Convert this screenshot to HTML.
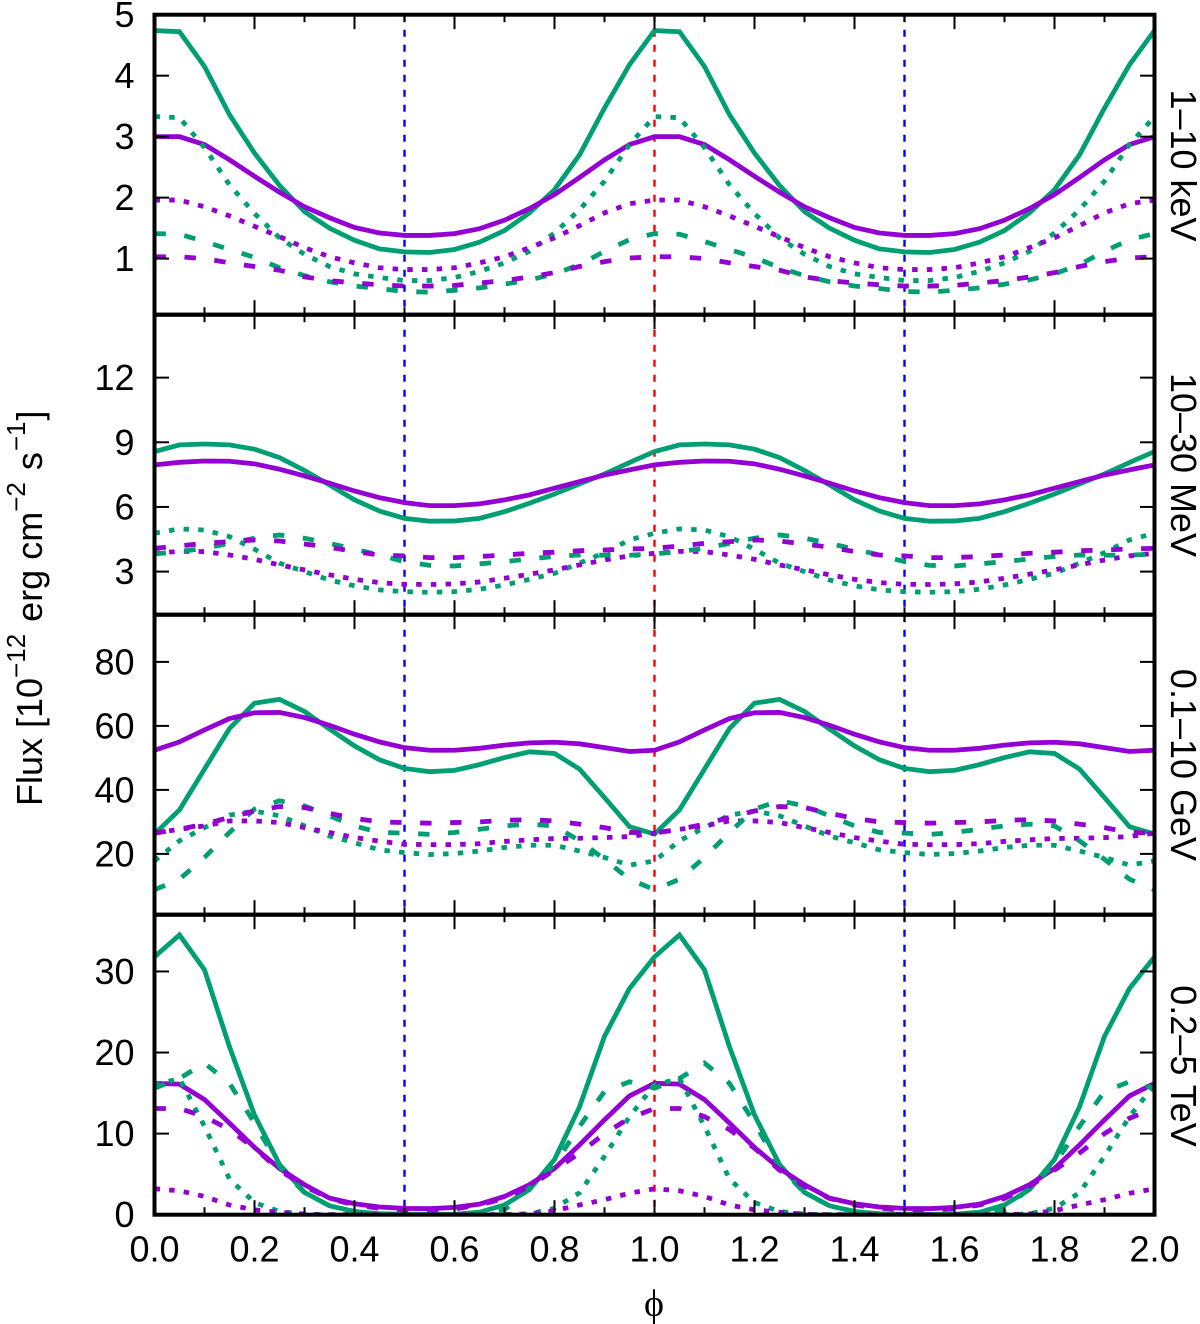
<!DOCTYPE html>
<html lang="en">
<head>
<meta charset="utf-8">
<title>Orbital phase flux curves</title>
<style>
html,body{margin:0;padding:0;background:#fff;}
svg{display:block;}
text{font-family:"Liberation Sans",sans-serif;fill:#000;}
</style>
</head>
<body>
<svg id="chart" xmlns="http://www.w3.org/2000/svg" width="1200" height="1324" viewBox="0 0 1200 1324">
  <text transform="translate(42,806) rotate(-90)" font-size="36">Flux [10<tspan dy="-17" font-size="26">−12</tspan><tspan dy="17" dx="2"> erg cm</tspan><tspan dy="-17" font-size="26">−2</tspan><tspan dy="17" dx="2"> s</tspan><tspan dy="-17" font-size="26" dx="1">−1</tspan><tspan dy="17" dx="1">]</tspan></text>
  <text x="654" y="1316" font-size="38" text-anchor="middle" style="font-family:'Liberation Serif','DejaVu Serif',serif">ϕ</text>
  <text transform="translate(1171,165.5) rotate(90)" font-size="36" text-anchor="middle">1–10 keV</text>
  <text transform="translate(1171,465) rotate(90)" font-size="36" text-anchor="middle">10–30 MeV</text>
  <text transform="translate(1171,765) rotate(90)" font-size="36" text-anchor="middle">0.1–10 GeV</text>
  <text transform="translate(1171,1066) rotate(90)" font-size="36" text-anchor="middle">0.2–5 TeV</text>
</svg>
<script>
// One orbital cycle sampled in phase; the curves repeat over the two plotted cycles.
const phaseSamples = [0,0.05,0.1,0.15,0.2,0.25,0.3,0.35,0.4,0.45,0.5,0.55,0.6,0.65,0.7,0.75,0.8,0.85,0.9,0.95];
const cycleCount = 2;
const xTickLabels = ["0.0","0.2","0.4","0.6","0.8","1.0","1.2","1.4","1.6","1.8","2.0"];
const xMinorTicks = [0.1,0.3,0.5,0.7,0.9,1.1,1.3,1.5,1.7,1.9];
const blueMarkers = [0.5,1.5];
const redMarkers = [1.0];

// Panel 1: 1-10 keV
const kevDomain = [0.08,5];
const kevTicks = [1,2,3,4,5];
const kevGreenSolid = [4.74,4.72,4.15,3.36,2.73,2.2,1.77,1.5,1.3,1.16,1.11,1.1,1.15,1.27,1.46,1.75,2.13,2.7,3.47,4.18];
const kevPurpleSolid = [3,3,2.87,2.62,2.35,2.09,1.85,1.67,1.51,1.42,1.38,1.38,1.41,1.49,1.63,1.82,2.05,2.33,2.62,2.87];
const kevGreenDotted = [3.33,3.31,2.82,2.21,1.74,1.34,1.07,0.87,0.75,0.69,0.64,0.64,0.69,0.79,0.93,1.12,1.42,1.8,2.27,2.87];
const kevPurpleDotted = [1.96,1.96,1.85,1.7,1.53,1.36,1.18,1.03,0.93,0.85,0.82,0.82,0.85,0.93,1.03,1.18,1.34,1.54,1.75,1.9];
const kevGreenDashed = [1.41,1.4,1.28,1.15,1.02,0.85,0.72,0.62,0.55,0.51,0.46,0.45,0.48,0.52,0.58,0.65,0.75,0.9,1.12,1.31];
const kevPurpleDashed = [1.03,1.03,1,0.93,0.87,0.81,0.7,0.64,0.6,0.57,0.55,0.55,0.56,0.6,0.64,0.7,0.77,0.87,0.95,1.01];

// Panel 2: 10-30 MeV
const mevDomain = [1,14.92];
const mevTicks = [3,6,9,12];
const mevGreenSolid = [8.57,8.88,8.92,8.88,8.68,8.29,7.69,7.02,6.33,5.81,5.47,5.34,5.35,5.47,5.78,6.17,6.6,7.07,7.53,8.06];
const mevPurpleSolid = [7.95,8.07,8.13,8.12,8,7.75,7.44,7.1,6.74,6.43,6.2,6.06,6.06,6.14,6.33,6.56,6.87,7.18,7.48,7.72];
const mevGreenDotted = [4.78,4.98,4.93,4.62,4.04,3.39,3,2.61,2.34,2.15,2.07,2.04,2.07,2.18,2.38,2.64,2.92,3.39,3.88,4.47];
const mevPurpleDotted = [3.85,3.94,3.93,3.77,3.57,3.31,3.08,2.85,2.64,2.49,2.41,2.4,2.43,2.52,2.69,2.88,3.08,3.31,3.54,3.73];
const mevGreenDashed = [3.82,3.93,4.08,4.31,4.55,4.7,4.55,4.31,4.04,3.77,3.46,3.29,3.26,3.36,3.46,3.59,3.7,3.77,3.76,3.76];
const mevPurpleDashed = [4.08,4.19,4.31,4.39,4.47,4.42,4.28,4.13,3.93,3.77,3.73,3.65,3.65,3.7,3.77,3.85,3.9,3.97,4,4.05];

// Panel 3: 0.1-10 GeV
const gevDomain = [1,94.75];
const gevTicks = [20,40,60,80];
const gevGreenSolid = [26.2,33.75,46.5,59.2,67.1,68.3,64.5,59,53.75,49.4,46.7,45.7,46.1,47.9,50.1,51.9,51.4,46.5,37.6,28.5];
const gevPurpleSolid = [52.4,55,58.75,62.3,64.1,64.2,62.6,60.2,57.4,55,53.2,52.4,52.4,53,54,54.7,54.9,54.4,53.2,52];
const gevGreenDotted = [17.8,24.1,28.2,32.1,33.4,31.9,28.75,25.6,23.5,21.25,20.4,19.8,20.1,20.9,22,22.7,22.7,20.9,18.9,16.5];
const gevPurpleDotted = [26.5,27.7,28.75,30.3,30.3,29.8,28.2,26.7,25.1,24,23,22.9,22.9,23.2,23.9,24.4,24.8,24.9,25.1,25.4];
const gevGreenDashed = [8.8,12.1,18.9,26.7,34,36.6,35,31.9,28.75,26.7,26.5,26.1,26.7,27.7,28.75,29.3,28.75,24.1,18.3,12.1];
const gevPurpleDashed = [26.5,27.7,29.3,31.4,33.4,34.8,34.5,32.7,31.1,30,29.8,29.6,29.8,30,30.5,30.7,30.3,29.3,28.2,26.7];

// Panel 4: 0.2-5 TeV
const tevDomain = [0,37];
const tevTicks = [0,10,20,30];
const tevGreenSolid = [31.8,34.5,30.2,20.7,12.3,6.2,2.75,1.1,0.4,0.12,0.05,0.04,0.05,0.3,1.2,3.1,6.8,13.3,22,27.9];
const tevPurpleSolid = [16.2,16.1,14.2,11.3,8.3,5.7,3.7,2.05,1.35,0.95,0.78,0.74,0.9,1.3,2.25,3.7,5.7,8.6,11.7,14.65];
const tevGreenDotted = [16,16.8,10.9,4.4,1.5,0.4,0.08,0,0,0,0,0,0,0,0,0.1,0.8,2.7,7.2,12.1];
const tevPurpleDotted = [3.2,2.95,2.25,1.2,0.6,0.3,0.05,0,0,0,0,0,0,0,0,0.1,0.5,1.2,1.85,2.65];
const tevGreenDashed = [15.6,16.8,18.7,16.2,11.3,5.95,2.7,1.1,0.4,0.1,0.05,0.05,0.05,0.3,0.6,3.3,6.2,10.9,15.2,16.4];
const tevPurpleDashed = [13.1,13.1,12.1,10.5,8.2,5.5,3.5,2,1.2,0.8,0.6,0.6,0.7,1.2,2,3.5,5.5,7.6,10,11.9];

const NS = 'http://www.w3.org/2000/svg';
const svg = document.getElementById('chart');
const GREEN = '#009e73', PURPLE = '#9400d3';
const plotLeft = 154.5, plotRight = 1154.5;
const dashStyles = {solid:null, dashed:'11.4 18.6', dotted:'5.5 9.2'};

function xScale(phi){ return plotLeft + (phi/cycleCount)*(plotRight-plotLeft); }
function makeYScale(domain, top, bottom){
  return v => bottom - (v-domain[0])/(domain[1]-domain[0])*(bottom-top);
}
function make(tag, attrs, parent){
  const el = document.createElementNS(NS, tag);
  for (const k in attrs) el.setAttribute(k, attrs[k]);
  parent.appendChild(el);
  return el;
}

const panels = [
  {key:'kev', top:14.7, domain:kevDomain, ticks:kevTicks, series:[
    ['green-solid',kevGreenSolid,GREEN,'solid'],['purple-solid',kevPurpleSolid,PURPLE,'solid'],
    ['green-dotted',kevGreenDotted,GREEN,'dotted'],['purple-dotted',kevPurpleDotted,PURPLE,'dotted'],
    ['green-dashed',kevGreenDashed,GREEN,'dashed'],['purple-dashed',kevPurpleDashed,PURPLE,'dashed']]},
  {key:'mev', top:314.7, domain:mevDomain, ticks:mevTicks, series:[
    ['green-solid',mevGreenSolid,GREEN,'solid'],['purple-solid',mevPurpleSolid,PURPLE,'solid'],
    ['green-dotted',mevGreenDotted,GREEN,'dotted'],['purple-dotted',mevPurpleDotted,PURPLE,'dotted'],
    ['green-dashed',mevGreenDashed,GREEN,'dashed'],['purple-dashed',mevPurpleDashed,PURPLE,'dashed']]},
  {key:'gev', top:614.7, domain:gevDomain, ticks:gevTicks, series:[
    ['green-solid',gevGreenSolid,GREEN,'solid'],['purple-solid',gevPurpleSolid,PURPLE,'solid'],
    ['green-dotted',gevGreenDotted,GREEN,'dotted'],['purple-dotted',gevPurpleDotted,PURPLE,'dotted'],
    ['green-dashed',gevGreenDashed,GREEN,'dashed'],['purple-dashed',gevPurpleDashed,PURPLE,'dashed']]},
  {key:'tev', top:914.7, domain:tevDomain, ticks:tevTicks, series:[
    ['green-solid',tevGreenSolid,GREEN,'solid'],['purple-solid',tevPurpleSolid,PURPLE,'solid'],
    ['green-dotted',tevGreenDotted,GREEN,'dotted'],['purple-dotted',tevPurpleDotted,PURPLE,'dotted'],
    ['green-dashed',tevGreenDashed,GREEN,'dashed'],['purple-dashed',tevPurpleDashed,PURPLE,'dashed']]}
];
const panelHeight = 300;

const defs = make('defs', {}, svg);

panels.forEach((p, pi) => {
  const top = p.top, bottom = top + panelHeight;
  const y = makeYScale(p.domain, top, bottom);

  const clip = make('clipPath', {id:'clip-'+p.key}, defs);
  make('rect', {x:plotLeft, y:top, width:plotRight-plotLeft, height:panelHeight}, clip);

  const group = make('g', {}, svg);
  
  

  // vertical phase markers
  blueMarkers.forEach(m => {
    const line = make('line', {x1:xScale(m), x2:xScale(m), y1:top, y2:bottom, stroke:'#0000ff', 'stroke-width':2.4, 'stroke-dasharray':'7 8'}, group);
    
    
  });
  redMarkers.forEach(m => {
    const line = make('line', {x1:xScale(m), x2:xScale(m), y1:top, y2:bottom, stroke:'#ff0000', 'stroke-width':2.4, 'stroke-dasharray':'7 8'}, group);
    
    
  });

  // series
  p.series.forEach(s => {
    const name = s[0], values = s[1], color = s[2], style = s[3];
    const pts = [];
    for (let c = 0; c < cycleCount; c++) {
      phaseSamples.forEach((phi, i) => {
        pts.push(xScale(phi + c).toFixed(2) + ',' + y(values[i]).toFixed(2));
      });
    }
    pts.push(xScale(cycleCount).toFixed(2) + ',' + y(values[0]).toFixed(2));
    const attrs = {points:pts.join(' '), fill:'none', stroke:color, 'stroke-width':4.8, 'stroke-linejoin':'miter', 'clip-path':'url(#clip-'+p.key+')'};
    if (dashStyles[style]) attrs['stroke-dasharray'] = dashStyles[style];
    const line = make('polyline', attrs, group);
    
    
  });

  // x ticks (top and bottom of the panel)
  xTickLabels.forEach(lbl => {
    const xp = xScale(parseFloat(lbl));
    make('line', {x1:xp, x2:xp, y1:top, y2:top+14.5, stroke:'#000', 'stroke-width':2}, group);
    make('line', {x1:xp, x2:xp, y1:bottom, y2:bottom-14.5, stroke:'#000', 'stroke-width':2}, group);
  });
  xMinorTicks.forEach(m => {
    const xp = xScale(m);
    make('line', {x1:xp, x2:xp, y1:top, y2:top+7.5, stroke:'#000', 'stroke-width':2}, group);
    make('line', {x1:xp, x2:xp, y1:bottom, y2:bottom-7.5, stroke:'#000', 'stroke-width':2}, group);
  });

  // y ticks and labels
  p.ticks.forEach(t => {
    const yp = y(t);
    make('line', {x1:plotLeft, x2:plotLeft+14.5, y1:yp, y2:yp, stroke:'#000', 'stroke-width':2}, group);
    make('line', {x1:plotRight, x2:plotRight-14.5, y1:yp, y2:yp, stroke:'#000', 'stroke-width':2}, group);
    const label = make('text', {x:134.5, y:yp+12.5, 'font-size':36, 'text-anchor':'end'}, group);
    label.textContent = String(t);
    
    
  });

  // frame
  const frame = make('rect', {x:plotLeft, y:top, width:plotRight-plotLeft, height:panelHeight, fill:'none', stroke:'#000', 'stroke-width':4}, group);
  
  

  // x tick labels under the last panel only
  if (pi === panels.length - 1) {
    xTickLabels.forEach(lbl => {
      const t = make('text', {x:xScale(parseFloat(lbl)), y:bottom+47, 'font-size':36, 'text-anchor':'middle'}, group);
      t.textContent = lbl;
      
      
    });
  }
});
</script>
</body>
</html>
